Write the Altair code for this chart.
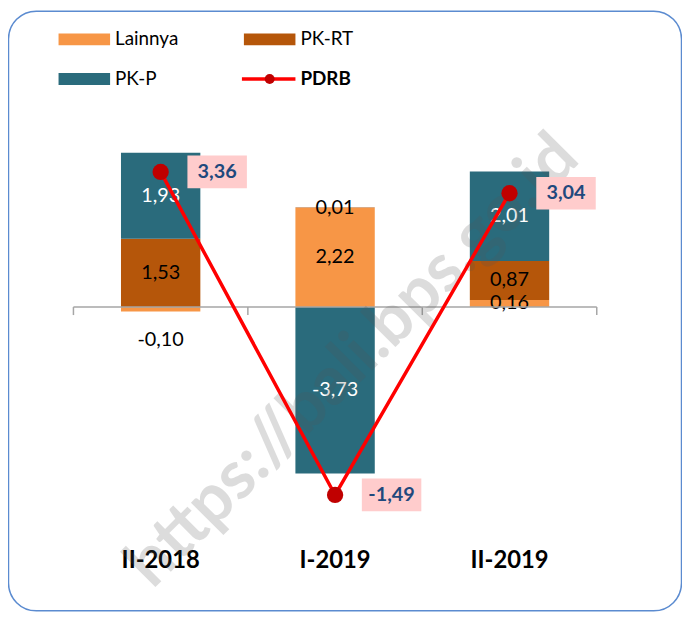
import altair as alt
import pandas as pd

categories = ["II-2018", "I-2019", "II-2019"]
series = ["Lainnya", "PK-RT", "PK-P"]
lainnya = [-0.10, 2.22, 0.16]
pk_rt = [1.53, 0.01, 0.87]
pk_p = [1.93, -3.73, 2.01]
pdrb = [3.36, -1.49, 3.04]
colors = ["#F79646", "#B5560A", "#2A6B7C"]


def fmt(v):
    return f"{v:.2f}".replace(".", ",")


rows = []
for i, c in enumerate(categories):
    for j, (s, vals) in enumerate(zip(series, [lainnya, pk_rt, pk_p])):
        rows.append({"cat": c, "series": s, "order": j, "value": vals[i], "label": fmt(vals[i])})
bars_df = pd.DataFrame(rows)
line_df = pd.DataFrame({"cat": categories, "pdrb": pdrb, "label": [fmt(v) for v in pdrb]})
one = pd.DataFrame({"v": [0]})
cat_df = pd.DataFrame({"cat": categories})

W, H = 528, 414
ybar = alt.Scale(domain=[-4.6, 4.6], nice=False, zero=False)
yline = alt.Scale(domain=[-1.749, 4.412], nice=False, zero=False)
AXIS_COL = "#A6A6A6"


def X():
    return alt.X(
        "cat:N",
        scale=alt.Scale(domain=categories, paddingInner=0.545, paddingOuter=0.2727),
        axis=alt.Axis(title=None, domain=False, ticks=False, grid=False, labelAngle=0,
                      labelPadding=37, labelFont="Lato", labelFontSize=24,
                      labelFontWeight="bold", labelColor="black"),
    )


border = alt.Chart(one).mark_rect(fill="white", fillOpacity=0, stroke="#5B8BD0",
                                  strokeWidth=1.5, cornerRadius=28).encode(
    x=alt.value(-65.5), x2=alt.value(613.5), y=alt.value(-91.5), y2=alt.value(513.5))

stacked = alt.Chart(bars_df).transform_stack(
    stack="value", as_=["y0", "y1"], groupby=["cat"],
    sort=[alt.SortField("order", order="ascending")])

bars = stacked.mark_bar().encode(
    x=X(),
    y=alt.Y("y0:Q", scale=ybar, axis=None),
    y2="y1:Q",
    color=alt.Color("series:N", scale=alt.Scale(domain=series, range=colors), legend=None),
)

labels = stacked.transform_calculate(
    ly="(datum.value < 0 && datum.value > -0.5) ? datum.y1 - 0.65 : (datum.y0 + datum.y1) / 2"
).mark_text(font="Lato", fontSize=20).encode(
    x=X(),
    y=alt.Y("ly:Q", scale=ybar, axis=None),
    text="label:N",
    color=alt.condition(alt.datum.series == "PK-P", alt.value("white"), alt.value("black")),
)

zero_line = alt.Chart(one).mark_rule(color=AXIS_COL, strokeWidth=1.5).encode(
    x=alt.value(0), x2=alt.value(W), y=alt.Y("v:Q", scale=ybar, axis=None))

ticks = alt.Chart(cat_df).mark_rule(color=AXIS_COL, strokeWidth=1.5, xOffset=-88).encode(
    x=X(), y=alt.YDatum(0, scale=ybar, axis=None), y2=alt.Y2Datum(-0.18))
last_tick = alt.Chart(one).mark_rule(color=AXIS_COL, strokeWidth=1.5).encode(
    x=alt.value(W), y=alt.YDatum(0, scale=ybar, axis=None), y2=alt.Y2Datum(-0.18))

watermark = alt.Chart(one).mark_text(
    text="https://bali.bps.go.id", angle=315, font="Lato", fontSize=68, fontWeight="bold",
    color="#555555", opacity=0.2, align="center", baseline="middle").encode(
    x=alt.value(282), y=alt.value(262))

line = alt.Chart(line_df).mark_line(color="#FF0000", strokeWidth=3.5).encode(
    x=X(), y=alt.Y("pdrb:Q", scale=yline, axis=None))
points = alt.Chart(line_df).mark_point(filled=True, color="#C00000", size=270, opacity=1).encode(
    x=X(), y=alt.Y("pdrb:Q", scale=yline, axis=None))
boxes = alt.Chart(line_df).mark_point(shape="M-1,-0.55H1V0.55H-1Z", size=3600, filled=True,
                                      color="#FFCCCC", opacity=1, xOffset=57).encode(
    x=X(), y=alt.Y("pdrb:Q", scale=yline, axis=None))
ptext = alt.Chart(line_df).mark_text(dx=57, font="Lato", fontSize=20, fontWeight="bold",
                                     color="#1F497D").encode(
    x=X(), y=alt.Y("pdrb:Q", scale=yline, axis=None), text="label:N")

# legend
leg = []
for (name, col, x0, y0) in [("Lainnya", colors[0], -15, -69), ("PK-RT", colors[1], 172, -69),
                            ("PK-P", colors[2], -15, -29)]:
    leg.append(alt.Chart(one).mark_rect(color=col).encode(
        x=alt.value(x0), x2=alt.value(x0 + 52), y=alt.value(y0), y2=alt.value(y0 + 12)))
    leg.append(alt.Chart(one).mark_text(text=name, font="Lato", fontSize=19, align="left",
                                        baseline="middle", color="black").encode(
        x=alt.value(x0 + 57), y=alt.value(y0 + 6)))
leg.append(alt.Chart(one).mark_rule(color="#FF0000", strokeWidth=3.5).encode(
    x=alt.value(170), x2=alt.value(224), y=alt.value(-23)))
leg.append(alt.Chart(one).mark_point(filled=True, color="#C00000", size=100, opacity=1).encode(
    x=alt.value(198), y=alt.value(-23)))
leg.append(alt.Chart(one).mark_text(text="PDRB", font="Lato", fontSize=19, fontWeight="bold",
                                    align="left", baseline="middle", color="black").encode(
    x=alt.value(229), y=alt.value(-23)))

chart = alt.layer(
    border, bars, labels, zero_line, ticks, last_tick, watermark, line, points, boxes, ptext, *leg
).resolve_scale(y="independent").properties(
    width=W, height=H,
    autosize=alt.AutoSizeParams(type="none"),
    padding={"left": 66, "right": 86, "top": 92, "bottom": 100},
    background="white",
).configure_view(stroke=None)

chart.save("out.html", embed_options={"renderer": "svg", "actions": False})
